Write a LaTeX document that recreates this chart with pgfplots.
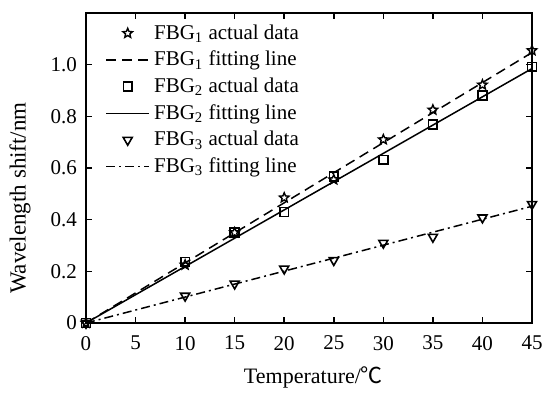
\documentclass[border=0pt]{standalone}
\usepackage{fontspec}
\setmainfont{Liberation Serif}
\newfontfamily\cjk{Noto Sans CJK SC}
\usepackage{pgfplots}
\pgfplotsset{compat=1.18}
\pgfdeclareplotmark{ostar}{%
  \pgfpathmoveto{\pgfpointpolar{90}{\pgfplotmarksize}}%
  \pgfpathlineto{\pgfpointpolar{126}{0.45\pgfplotmarksize}}%
  \pgfpathlineto{\pgfpointpolar{162}{\pgfplotmarksize}}%
  \pgfpathlineto{\pgfpointpolar{198}{0.45\pgfplotmarksize}}%
  \pgfpathlineto{\pgfpointpolar{234}{\pgfplotmarksize}}%
  \pgfpathlineto{\pgfpointpolar{270}{0.45\pgfplotmarksize}}%
  \pgfpathlineto{\pgfpointpolar{306}{\pgfplotmarksize}}%
  \pgfpathlineto{\pgfpointpolar{342}{0.45\pgfplotmarksize}}%
  \pgfpathlineto{\pgfpointpolar{18}{\pgfplotmarksize}}%
  \pgfpathlineto{\pgfpointpolar{54}{0.45\pgfplotmarksize}}%
  \pgfpathclose
  \pgfusepathqstroke}
\begin{document}
\begin{tikzpicture}[font=\fontsize{10.5}{12}\selectfont]
\begin{axis}[
  scale only axis, width=223pt, height=155pt,
  xmin=0, xmax=45, ymin=0, ymax=1.2,
  xtick={0,5,...,45},
  ytick={0,0.2,0.4,0.6,0.8,1.0},
  yticklabels={0,0.2,0.4,0.6,0.8,1.0},
  /pgf/number format/assume math mode=true,
  tick align=inside, major tick length=3pt,
  axis line style={line width=1pt},
  every tick/.style={line width=0.8pt, black},
  tick label style={font=\fontsize{10.5}{12}\selectfont},
  xticklabel style={yshift=-3pt},
  yticklabel style={xshift=-1pt},
  xlabel={Temperature/{\cjk ℃}},
  ylabel={Wavelength shift/nm},
  xlabel style={at={(axis description cs:0.51,-0.177)}, anchor=center, font=\fontsize{11}{12}\selectfont},
  ylabel style={at={(axis description cs:-0.148,0.403)}, anchor=center, font=\fontsize{11.5}{12}\selectfont},
  clip mode=individual,
  legend style={draw=none, fill=none, at={(0.029,0.99)}, anchor=north west,
    font=\fontsize{10.5}{12}\selectfont, row sep=0.5pt},
  legend cell align=left,
  legend image code/.code={\draw[mark repeat=2,mark phase=2,#1] plot coordinates {(0cm,0cm) (0.38cm,0cm) (0.76cm,0cm)};},
]
\addplot[only marks, mark=ostar, mark size=2.5pt, mark options={line width=0.7pt}]
  coordinates {(0,0) (10,0.225) (15,0.35) (20,0.485) (25,0.555) (30,0.71) (35,0.825) (40,0.922) (45,1.055)};
\addlegendentry{FBG\textsubscript{1} actual data}
\addplot[line width=0.75pt, dash pattern=on 5pt off 3pt]
  coordinates {(0,0) (45,1.047)};
\addlegendentry{FBG\textsubscript{1} fitting line}
\addplot[only marks, mark=square, mark size=2.2pt, mark options={line width=0.8pt}]
  coordinates {(0,0) (10,0.237) (15,0.35) (20,0.43) (25,0.567) (30,0.632) (35,0.768) (40,0.88) (45,0.992)};
\addlegendentry{FBG\textsubscript{2} actual data}
\addplot[solid, line width=0.75pt]
  coordinates {(0,0) (45,0.985)};
\addlegendentry{FBG\textsubscript{2} fitting line}
\addplot[only marks, mark=triangle, mark size=2.6pt, mark options={rotate=180, line width=0.8pt}]
  coordinates {(0,0) (10,0.105) (15,0.152) (20,0.21) (25,0.243) (30,0.31) (35,0.333) (40,0.408) (45,0.46)};
\addlegendentry{FBG\textsubscript{3} actual data}
\addplot[line width=0.75pt, dash pattern=on 4.5pt off 2pt on 1pt off 2pt]
  coordinates {(0,0) (45,0.452)};
\addlegendentry{FBG\textsubscript{3} fitting line}
\end{axis}
\pgfresetboundingbox
\path ([shift={(-43pt,-34.5pt)}]current axis.south west) rectangle ([shift={(8.5pt,6.5pt)}]current axis.north east);
\end{tikzpicture}
\end{document}
